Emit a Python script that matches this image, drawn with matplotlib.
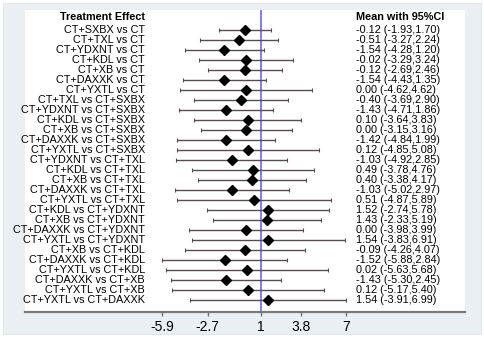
import matplotlib
matplotlib.use("Agg")
import matplotlib.pyplot as plt
from matplotlib.patches import Rectangle
import matplotlib.transforms as mtransforms

plt.rcParams['font.family'] = ['Liberation Sans', 'DejaVu Sans']

comparisons = [
    "CT+SXBX vs CT", "CT+TXL vs CT", "CT+YDXNT vs CT", "CT+KDL vs CT",
    "CT+XB vs CT", "CT+DAXXK vs CT", "CT+YXTL vs CT",
    "CT+TXL vs CT+SXBX", "CT+YDXNT vs CT+SXBX", "CT+KDL vs CT+SXBX",
    "CT+XB vs CT+SXBX", "CT+DAXXK vs CT+SXBX", "CT+YXTL vs CT+SXBX",
    "CT+YDXNT vs CT+TXL", "CT+KDL vs CT+TXL", "CT+XB vs CT+TXL",
    "CT+DAXXK vs CT+TXL", "CT+YXTL vs CT+TXL",
    "CT+KDL vs CT+YDXNT", "CT+XB vs CT+YDXNT", "CT+DAXXK vs CT+YDXNT",
    "CT+YXTL vs CT+YDXNT",
    "CT+XB vs CT+KDL", "CT+DAXXK vs CT+KDL", "CT+YXTL vs CT+KDL",
    "CT+DAXXK vs CT+XB", "CT+YXTL vs CT+XB",
    "CT+YXTL vs CT+DAXXK",
]
means = [-0.12, -0.51, -1.54, -0.02, -0.12, -1.54, 0.00,
         -0.40, -1.43, 0.10, 0.00, -1.42, 0.12,
         -1.03, 0.49, 0.40, -1.03, 0.51,
         1.52, 1.43, 0.00, 1.54,
         -0.09, -1.52, 0.02,
         -1.43, 0.12,
         1.54]
lower = [-1.93, -3.27, -4.28, -3.29, -2.69, -4.43, -4.62,
         -3.69, -4.71, -3.64, -3.15, -4.84, -4.85,
         -4.92, -3.78, -3.38, -5.02, -4.87,
         -2.74, -2.33, -3.98, -3.83,
         -4.26, -5.88, -5.63,
         -5.30, -5.17,
         -3.91]
upper = [1.70, 2.24, 1.20, 3.24, 2.46, 1.35, 4.62,
         2.90, 1.86, 3.83, 3.16, 1.99, 5.08,
         2.85, 4.76, 4.17, 2.97, 5.89,
         5.78, 5.19, 3.99, 6.91,
         4.07, 2.84, 5.68,
         2.45, 5.40,
         6.99]
xticks = [-5.9, -2.7, 1, 3.8, 7]
ref_line = 1

W, H = 484, 337
fig = plt.figure(figsize=(W / 100, H / 100), dpi=100)
fig.patch.set_facecolor('white')
fig.patches.append(Rectangle((3 / W, 1 - 334 / H), 478 / W, 331 / H,
                             transform=fig.transFigure, facecolor='#e9eff3',
                             edgecolor='#dde4e9', lw=0.6, zorder=-1))

ax = fig.add_axes([25 / W, 1 - 312 / H, 440 / W, 302 / H])
ax.set_facecolor('white')

rows = list(range(len(comparisons)))
for i in rows:
    ax.errorbar(means[i], i, xerr=[[means[i] - lower[i]], [upper[i] - means[i]]],
                fmt='D', color='black', ms=4.6, ecolor='#574d4d',
                elinewidth=1.0, capsize=1.3, capthick=0.8, zorder=3)

ax.axvline(ref_line, color='#6a6af2', lw=1.2, zorder=2)

ax.set_xlim(-15.48, 15.29)
ax.set_ylim(28.2, -2.03)
ax.set_yticks([])
ax.set_xticks(xticks)
ax.set_xticklabels(['-5.9', '-2.7', '1', '3.8', '7'], fontsize=10)
ax.tick_params(axis='x', length=3, width=1, color='#707070', pad=2.5)
for s in ['top', 'left', 'right']:
    ax.spines[s].set_visible(False)
ax.spines['bottom'].set_color('#7a7a7a')
ax.spines['bottom'].set_linewidth(1.6)

trans = mtransforms.blended_transform_factory(ax.transAxes, ax.transData)
lx = (145 - 25) / 440
rx = (356 - 25) / 440
fs = 7.8
ax.text(lx, -1.3, "Treatment Effect", transform=trans, ha='right', va='center',
        fontsize=fs, fontweight='bold')
ax.text(rx, -1.3, "Mean with 95%CI", transform=trans, ha='left', va='center',
        fontsize=fs, fontweight='bold')
for i in rows:
    ax.text(lx, i, comparisons[i], transform=trans, ha='right', va='center',
            fontsize=fs)
    ax.text(rx, i, "%.2f (%.2f,%.2f)" % (means[i], lower[i], upper[i]),
            transform=trans, ha='left', va='center', fontsize=fs)

fig.savefig("out.png", dpi=100, facecolor=fig.get_facecolor())
